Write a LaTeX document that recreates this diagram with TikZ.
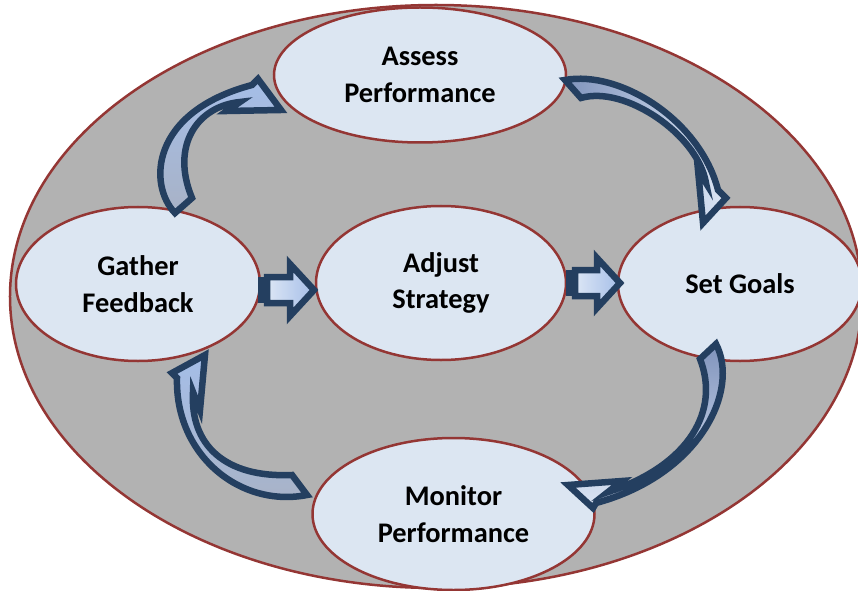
\documentclass[tikz,border=0pt]{standalone}
\usepackage{fontspec}
\setmainfont{Carlito}
\usetikzlibrary{shapes.geometric}
\definecolor{bggray}{HTML}{B2B2B2}
\definecolor{ellfill}{HTML}{DCE6F2}
\definecolor{ellred}{HTML}{943634}
\definecolor{navy}{HTML}{243F60}
\definecolor{arrblue}{HTML}{A5BEE8}
\definecolor{arrgray}{HTML}{A8B2C6}
\definecolor{arrdark}{HTML}{8094BC}
\definecolor{arrlight}{HTML}{DCE6F5}
\begin{document}
\begin{tikzpicture}[x=1bp,y=-1bp,
  stage/.style={ellipse, draw=ellred, line width=2.5bp, fill=ellfill, inner sep=0pt,
    font=\fontsize{28.5}{37}\selectfont\bfseries, align=center},
  blockarrow/.style={draw=navy, line width=6.5bp, line join=miter, miter limit=10},
]
\useasboundingbox (0,0) rectangle (858,591);
% outer ellipse
\node[ellipse, draw=ellred, line width=2.5bp, fill=bggray, minimum width=852bp, minimum height=583bp, inner sep=0pt] (outer) at (436,296.5) {};
% stages
\node[stage, minimum width=292bp, minimum height=135bp] (assess) at (420,75) {Assess\\Performance};
\node[stage, minimum width=244bp, minimum height=154bp] (gather) at (138,284) {Gather\\Feedback};
\node[stage, minimum width=250bp, minimum height=154bp] (adjust) at (441,283) {Adjust\\Strategy};
\node[stage, minimum width=244bp, minimum height=154bp] (goals) at (740,284) {Set Goals};
\node[stage, minimum width=282bp, minimum height=152bp] (monitor) at (453.5,514) {Monitor\\Performance};
% curved arrows
\draw[blockarrow, top color=arrblue, bottom color=arrgray]
  (175,213) .. controls (148,185) and (150,112) .. (252,85)
  -- (258,79) -- (281,110) -- (227,111) -- (240,102)
  .. controls (198,106) and (170,145) .. (192,198) -- cycle;
\draw[blockarrow, left color=arrdark, right color=arrlight]
  (565,80) .. controls (620,70) and (700,120) .. (718,190)
  -- (726,198) -- (703,223) -- (698,170) -- (706,183)
  .. controls (698,135) and (625,85) .. (581,98) -- cycle;
\draw[blockarrow, top color=arrdark, bottom color=arrlight]
  (716,344) .. controls (740,390) and (700,475) .. (596,503)
  -- (593,508) -- (568,485) -- (622,481) -- (608,492)
  .. controls (690,465) and (720,410) .. (700,359) -- cycle;
\draw[blockarrow, top color=arrblue, bottom color=arrgray]
  (307,495) .. controls (240,508) and (175,455) .. (177,378)
  -- (172,373) -- (205,355) -- (200,410) -- (193,392)
  .. controls (190,445) and (225,478) .. (292,475) -- cycle;
% straight arrows
\fill[navy] (258,277) rectangle (267,303);
\draw[blockarrow, left color=arrlight, right color=arrblue]
  (267,277) -- (290,277) -- (290,264) -- (314,290) -- (290,316) -- (290,303) -- (267,303) -- cycle;
\fill[navy] (566,270) rectangle (575,296);
\draw[blockarrow, left color=arrlight, right color=arrblue]
  (575,270) -- (597,270) -- (597,258) -- (620,283) -- (597,308) -- (597,296) -- (575,296) -- cycle;
\end{tikzpicture}
\end{document}
